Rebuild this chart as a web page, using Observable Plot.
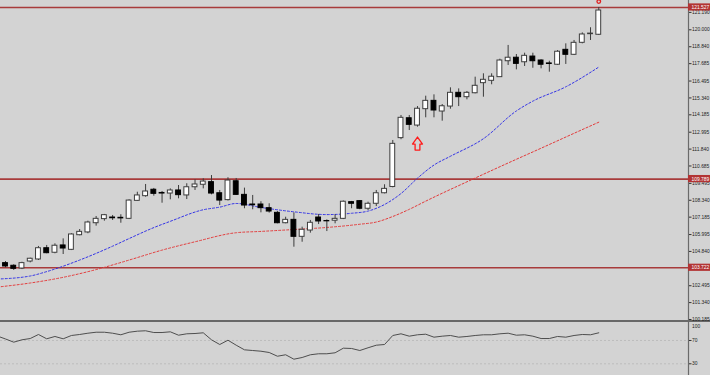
<!DOCTYPE html>
<html>
<head>
<meta charset="utf-8">
<script src="https://cdn.jsdelivr.net/npm/d3@7"></script>
<script src="https://cdn.jsdelivr.net/npm/@observablehq/plot@0.6"></script>
<style>
  html, body { margin: 0; padding: 0; background: #d3d3d3; }
  #chart { width: 710px; height: 375px; overflow: hidden; background: #d3d3d3; }
  #chart svg { display: block; }
  #sep { height: 2px; width: 710px; background: #686868; }
</style>
</head>
<body>
<div id="chart"></div>
<script>
// ---- Candle data (one entry per bar, left to right) ----
const open = [104.04,103.86,103.67,104.15,104.29,105.06,104.75,105.25,104.95,105.95,106.14,106.77,107.05,107.16,107.14,107.07,108.30,108.62,109.06,108.84,108.80,109.01,108.67,109.23,109.40,109.58,108.82,108.35,109.64,108.71,108.05,108.05,107.80,107.48,106.77,107.00,105.84,106.27,107.16,106.92,106.94,107.07,108.21,108.28,107.76,108.10,108.82,109.25,112.59,113.95,113.45,114.57,115.14,114.41,114.75,115.69,115.39,115.66,116.35,116.51,116.76,117.85,118.09,117.78,118.17,117.90,117.70,117.61,118.63,118.29,119.11,119.70,119.66];
const high = [104.15,103.93,104.10,104.38,105.18,105.25,105.36,105.70,106.05,106.34,106.91,107.23,107.37,107.30,107.35,108.37,108.89,109.42,109.15,108.94,109.12,109.35,109.47,109.74,109.81,110.03,109.01,109.88,109.83,109.17,108.67,108.24,108.10,107.57,107.18,107.48,106.50,106.96,107.37,107.00,107.35,108.29,108.26,108.32,108.21,109.01,109.40,112.43,114.14,114.14,114.75,115.46,115.55,114.89,116.03,115.96,115.78,116.76,116.99,116.99,117.99,118.93,118.31,118.40,118.40,117.95,117.85,118.58,119.04,119.27,119.79,120.14,121.527];
const low = [103.72,103.54,103.60,104.06,104.22,104.68,104.68,104.63,104.90,105.91,106.05,106.57,106.91,106.96,106.77,107.02,108.26,108.55,108.62,108.14,108.37,108.44,108.39,109.01,109.12,108.71,107.98,108.29,108.67,107.76,107.69,107.48,107.46,106.73,106.73,105.13,105.47,106.09,106.68,106.20,106.73,107.02,107.76,107.69,107.64,107.91,108.78,109.19,112.48,113.11,113.34,113.98,113.98,113.75,114.57,114.75,115.21,115.62,115.39,116.24,116.74,117.56,117.26,117.49,117.37,117.33,117.10,117.56,117.63,118.24,119.04,119.27,119.61];
const close = [103.81,103.65,104.04,104.34,105.06,104.72,105.23,105.04,106.00,106.18,106.82,107.07,107.32,107.11,107.10,108.32,108.67,108.94,108.78,108.80,109.01,108.69,109.23,109.42,109.62,108.80,108.32,109.69,108.71,107.98,108.00,107.80,107.57,106.77,107.00,105.84,106.32,106.80,106.89,106.90,107.07,108.24,108.10,107.76,108.10,108.82,109.12,112.20,113.98,113.50,114.60,115.14,114.48,114.77,115.69,115.39,115.69,116.17,116.58,116.79,117.90,118.09,117.67,118.22,117.85,117.61,117.66,118.50,118.29,119.11,119.68,119.74,121.32];

// ---- Moving averages read at sampled bars ----
const fastMAIndex = [-1,3,5,9,13,15,18,20,24,26,28,31,35,39,42,44,46,48,50,52,54,58,62,64,68,72];
const fastMAValue = [102.95,103.16,103.46,104.25,105.20,105.72,106.47,106.90,107.69,107.87,108.12,107.85,107.55,107.36,107.45,107.60,108.05,108.80,109.85,110.75,111.35,112.55,114.45,115.12,116.10,117.45];
const slowMAIndex = [-1,3,7,11,15,19,23,28,31,35,39,43,45,47,49,51,57,61,65,69,72];
const slowMAValue = [102.40,102.68,103.07,103.60,104.25,104.93,105.50,106.12,106.21,106.34,106.48,106.70,106.85,107.23,107.72,108.28,109.86,110.89,111.90,112.92,113.68];

// ---- Oscillator (starts one bar before the first visible candle) ----
const oscStart = -1;
const oscValue = [77.7,72.6,67.1,71.2,73.4,80.3,72.9,76.9,72.9,78.6,80.3,82.5,84.2,84.2,82.5,79.8,84.2,86.0,86.7,83.7,83.7,84.9,79.1,81.5,82.0,83.2,71.2,63.1,70.5,61.9,54.0,52.8,51.6,49.4,43.0,45.5,37.9,40.8,45.5,47.2,47.2,48.9,56.8,56.3,52.8,57.5,61.9,63.1,78.6,81.5,77.4,79.8,80.8,75.7,77.4,78.6,75.7,76.9,78.6,79.8,79.8,81.5,82.5,79.1,79.8,77.4,73.4,73.4,76.9,75.7,78.6,80.3,79.8,83.2];

// ---- Levels, markers, ticks ----
const levels = [121.527, 109.789, 103.722];
const upArrow = [{i: 50, price: 112.22}];
const topMarker = [{i: 72, price: 121.93}];
const priceTicks = [121.190,120.000,118.840,117.685,116.495,115.340,114.185,112.995,111.840,110.685,109.495,108.340,107.185,105.995,104.840,103.685,102.495,101.340,100.185];
const oscTicks = [70, 30];
const oscTopTick = [100];
const oscGuides = [70, 30];

// ---- Build tables ----
const candles = open.map((o, i) => ({i, open: o, high: high[i], low: low[i], close: close[i]}));
const fastMA = fastMAIndex.map((i, k) => ({i, v: fastMAValue[k]}));
const slowMA = slowMAIndex.map((i, k) => ({i, v: slowMAValue[k]}));
const osc = oscValue.map((v, k) => ({i: k + oscStart, v}));

// ---- Layout ----
const W = 710, MR = 22;
const xDomain = [-0.607, 82.89];
const pxPerBar = (W - MR) / (xDomain[1] - xDomain[0]);
const mainH = 320;
const yDomain = [100.116, 122.004];
const pxPerPrice = mainH / (yDomain[1] - yDomain[0]);
const FONT = "Liberation Sans, Arial, sans-serif";
const FS = 4.9;

const hollowArrow = {
  draw(context, l) {
    const h = 7, hw = 5, sw = 2.4;
    context.moveTo(0, -l);
    context.lineTo(hw, -l + h);
    context.lineTo(sw, -l + h);
    context.lineTo(sw, 0);
    context.lineTo(-sw, 0);
    context.lineTo(-sw, -l + h);
    context.lineTo(-hw, -l + h);
    context.closePath();
  }
};

const main = Plot.plot({
  width: W, height: mainH,
  marginLeft: 0, marginRight: MR, marginTop: 0, marginBottom: 0,
  style: {background: "#d3d3d3", fontFamily: FONT, overflow: "visible"},
  x: {domain: xDomain, axis: null},
  y: {domain: yDomain, axis: null, label: null},
  marks: [
    Plot.ruleY(levels, {stroke: "#a83b3b", strokeWidth: 1.6}),
    Plot.line(slowMA, {x: "i", y: "v", stroke: "#e33b3b", strokeWidth: 1, strokeDasharray: "2,2", curve: "monotone-x", clip: true}),
    Plot.line(fastMA, {x: "i", y: "v", stroke: "#3434e6", strokeWidth: 1, strokeDasharray: "2,2", curve: "monotone-x", clip: true}),
    Plot.ruleX(candles, {x: "i", y1: "low", y2: "high", stroke: "#3c3c3c", strokeWidth: 1}),
    Plot.rect(candles, {
      x1: d => d.i - 0.5, x2: d => d.i + 0.5, y1: "open", y2: "close",
      insetLeft: 1.7, insetRight: 1.7,
      fill: d => d.close >= d.open ? "#ffffff" : "#000000",
      stroke: d => d.close >= d.open ? "#3c3c3c" : "#000000",
      strokeWidth: 1
    }),
    Plot.vector(upArrow, {x: "i", y: "price", length: 13, rotate: 0, anchor: "middle", shape: hollowArrow, stroke: "#ff1a1a", strokeWidth: 1.3, fill: "none"}),
    Plot.dot(topMarker, {x: "i", y: "price", r: 1.8, stroke: "#e02020", strokeWidth: 1.3, fill: "none"}),
    Plot.ruleX([xDomain[1]], {stroke: "#6a6a6a", strokeWidth: 1.2}),
    Plot.axisY(priceTicks, {anchor: "right", label: null, tickSize: 2.5, tickPadding: 1, tickFormat: d => d.toFixed(3), fontSize: FS, fill: "#1e1e1e", stroke: "#333"}),
    Plot.rect(levels, {x1: xDomain[1], x2: xDomain[1] + MR / pxPerBar, y1: d => d - 3.6 / pxPerPrice, y2: d => d + 3.6 / pxPerPrice, fill: "#b23434"}),
    Plot.text(levels, {x: xDomain[1], y: d => d, text: d => d.toFixed(3), textAnchor: "start", dx: 3, fill: "#ffffff", fontSize: FS})
  ]
});

const lowerH = 53;
const lower = Plot.plot({
  width: W, height: lowerH,
  marginLeft: 0, marginRight: MR, marginTop: 0, marginBottom: 0,
  style: {background: "#d3d3d3", fontFamily: FONT, overflow: "visible"},
  x: {domain: xDomain, axis: null},
  y: {domain: [9.9, 100.9], axis: null, label: null},
  marks: [
    Plot.ruleY(oscGuides, {stroke: "#bdbdbd", strokeDasharray: "2,2"}),
    Plot.line(osc, {x: "i", y: "v", stroke: "#4e4e4e", strokeWidth: 1, clip: true}),
    Plot.ruleX([xDomain[1]], {stroke: "#6a6a6a", strokeWidth: 1.2}),
    Plot.axisY(oscTicks, {anchor: "right", label: null, tickSize: 2.5, tickPadding: 1, fontSize: FS, fill: "#1e1e1e", stroke: "#333"}),
    Plot.text(oscTopTick, {x: xDomain[1], y: d => d, text: d => String(d), textAnchor: "start", dx: 3.5, dy: 3, fontSize: FS, fill: "#1e1e1e"})
  ]
});

const host = document.getElementById("chart");
host.appendChild(main);
const sep = document.createElement("div");
sep.id = "sep";
host.appendChild(sep);
host.appendChild(lower);
</script>
</body>
</html>
